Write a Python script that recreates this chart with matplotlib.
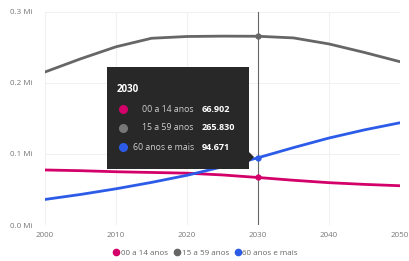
import matplotlib
matplotlib.use("Agg")
import matplotlib.pyplot as plt
from matplotlib.lines import Line2D
from matplotlib.patches import FancyBboxPatch, Polygon
from matplotlib.ticker import FuncFormatter

plt.rcParams['font.family'] = ['Open Sans', 'DejaVu Sans']

# dados (milhares de pessoas)
anos = [2000, 2005, 2010, 2015, 2020, 2025, 2030, 2035, 2040, 2045, 2050]
jovens = [77.5, 76.5, 75.0, 74.0, 73.0, 70.5, 66.902, 63.0, 59.6, 57.2, 55.3]
adultos = [215.5, 234.0, 251.0, 263.0, 265.5, 266.0, 265.830, 263.5, 255.0, 243.0, 230.0]
idosos = [36.0, 43.0, 51.0, 60.0, 70.0, 82.0, 94.671, 109.0, 122.5, 134.0, 144.0]
nomes = ['00 a 14 anos', '15 a 59 anos', '60 anos e mais']
cores = ['#D4006A', '#666666', '#2C5BE8']
ano_sel = 2030
x_ticks = [2000, 2010, 2020, 2030, 2040, 2050]
y_ticks = [0, 100, 200, 300]

fig = plt.figure(figsize=(4.1, 2.61), dpi=100)
ax = fig.add_axes([45 / 410, 1 - 225 / 261, 355 / 410, 213 / 261])

series = [jovens, adultos, idosos]
for vals, cor in zip(series, cores):
    ax.plot(anos, vals, color=cor, lw=2.0, solid_capstyle='round', zorder=3)

# linha vertical do ano selecionado
ax.axvline(ano_sel, color='#666666', lw=0.8, zorder=2)
i_sel = anos.index(ano_sel)
for vals, cor in zip(series, cores):
    ax.plot([ano_sel], [vals[i_sel]], 'o', ms=3.5, color=cor, zorder=4)

ax.set_xlim(2000, 2050)
ax.set_ylim(0, 300)
ax.set_xticks(x_ticks)
ax.set_yticks(y_ticks)
ax.yaxis.set_major_formatter(FuncFormatter(lambda v, p: f'{v / 1000:.1f} Mi'))
ax.grid(True, color='#f0f0f0', lw=0.7, zorder=0)
for s in ax.spines.values():
    s.set_visible(False)
ax.tick_params(length=0, labelsize=5.8, labelcolor='#777777')
ax.tick_params(axis='x', pad=5)
ax.tick_params(axis='y', pad=25)
for lab in ax.get_yticklabels():
    lab.set_horizontalalignment('left')

# tooltip
fig.patches.append(FancyBboxPatch((107 / 410, 1 - 169 / 261), 142 / 410, 102 / 261,
                                  boxstyle='square,pad=0', transform=fig.transFigure,
                                  facecolor='#282828', edgecolor='none', zorder=5))
fig.patches.append(Polygon([(249 / 410, 1 - 152 / 261), (254 / 410, 1 - 157 / 261),
                            (249 / 410, 1 - 162 / 261)], closed=True, transform=fig.transFigure,
                           facecolor='#282828', edgecolor='none', zorder=5))
fig.text(117 / 410, 1 - 90 / 261, str(ano_sel), color='white', fontsize=7,
         fontweight='bold', va='center', zorder=6)
for k, (nome, vals, cor) in enumerate(zip(nomes, series, cores)):
    yy = 1 - (109 + 19 * k) / 261
    dot_cor = '#777777' if k == 1 else cor
    fig.add_artist(Line2D([123 / 410], [yy], marker='o', ms=5.5, color=dot_cor,
                          transform=fig.transFigure, zorder=6))
    fig.text(194 / 410, yy, nome, color='#cfcfcf', fontsize=6.3, ha='right', va='center', zorder=6)
    fig.text(202 / 410, yy, f'{vals[i_sel]:.3f}', color='white', fontsize=6.5,
             fontweight='bold', va='center', zorder=6)

# legenda
handles = [Line2D([], [], marker='o', ls='', ms=4.5, color=c) for c in cores]
fig.legend(handles, nomes, loc='center', bbox_to_anchor=(0.5, 1 - 253 / 261), ncol=3,
           frameon=False, fontsize=5.8, labelcolor='#666666', handletextpad=0.1,
           columnspacing=0.6, handlelength=1.0)

fig.savefig('out.png', dpi=100)
